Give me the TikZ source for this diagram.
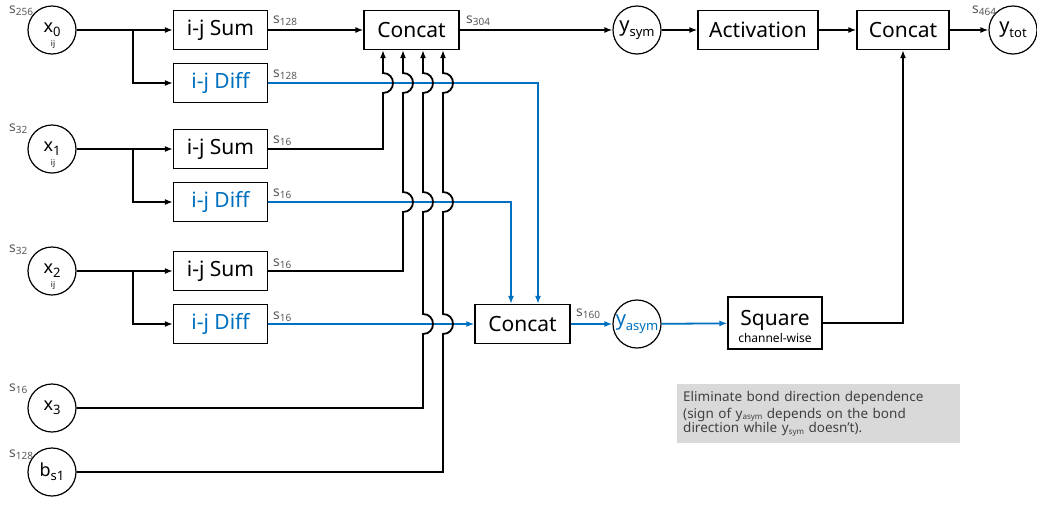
\documentclass[tikz,border=0pt]{standalone}
\usepackage{fontspec}
\setmainfont{Noto Sans}
\usetikzlibrary{arrows.meta}
\definecolor{blu}{HTML}{0070C0}
\definecolor{lblgray}{HTML}{595959}
\definecolor{notegray}{HTML}{D9D9D9}
\definecolor{notetext}{HTML}{404040}
\newcommand\fs[1]{\fontsize{#1}{#1}\selectfont}
\newcommand\slbl[1]{{\fs{14}s\raisebox{-2.5pt}{\fs{10}#1}}}
\newcommand\circtxt[2]{{\fs{18}#1\raisebox{-4pt}{\fs{13}#2}}}
\begin{document}
\begin{tikzpicture}[x=1pt,y=-1pt,
 box/.style={draw, line width=1.2pt, minimum width=94pt, minimum height=39pt, inner sep=0pt, font=\fs{21}},
 circ/.style={draw, circle, line width=1.2pt, minimum size=48pt, inner sep=0pt},
 blk/.style={line width=1.8pt, -{Latex[length=8pt,width=6pt]}},
 bl/.style={blk, draw=blu},
 lbl/.style={anchor=base west, inner sep=0pt, text=lblgray},
 ijs/.style={inner sep=0pt, font=\fs{8}},
]
\useasboundingbox (0,0) rectangle (1037,504);

% input circles
\node[circ] (x0) at (52,30) {\circtxt{x}{0}};
\node[circ] (x1) at (52,149) {\circtxt{x}{1}};
\node[circ] (x2) at (52,271) {\circtxt{x}{2}};
\node[circ] (x3) at (52,408) {\circtxt{x}{3}};
\node[circ] (bs1) at (52,472) {\circtxt{b}{s1}};
\node[ijs] (ij0) at (53,45) {ij};
\node[ijs] (ij1) at (53,164) {ij};
\node[ijs] (ij2) at (53,286) {ij};

% boxes
\node[box] (sum1) at (220.5,30) {i-j Sum};
\node[box, text=blu] (diff1) at (220.5,83) {i-j Diff};
\node[box] (sum2) at (220.5,149) {i-j Sum};
\node[box, text=blu] (diff2) at (220.5,202) {i-j Diff};
\node[box] (sum3) at (220.5,271) {i-j Sum};
\node[box, text=blu] (diff3) at (220.5,324) {i-j Diff};
\node[box, minimum width=95pt] (cat1) at (411.5,30) {Concat};
\node[box, minimum width=95pt] (cat2) at (522.5,324) {Concat};
\node[box, minimum width=120pt] (act) at (758,30) {Activation};
\node[box, minimum width=92pt] (cat3) at (903,30) {Concat};
\node[box, minimum height=52pt] (sq) at (775,323) {};
\node[anchor=base, inner sep=0pt, font=\fs{21}] (sqt) at (775,325) {Square};
\node[anchor=base, inner sep=0pt, font=\fs{12}] (sqc) at (775,342) {channel-wise};

% output circles
\node[circ] (ysym) at (637,30) {{\fs{20}y\raisebox{-5pt}{\fs{13}sym}}};
\node[circ] (yasym) at (637,324) {{\color{blu}\fs{20}y\raisebox{-5pt}{\fs{13}asym}}};
\node[circ] (ytot) at (1013,30) {{\fs{20}y\raisebox{-5pt}{\fs{13}tot}}};

% size labels
\node[lbl] (l0) at (9,13) {\slbl{256}};
\node[lbl] (l1) at (9,131) {\slbl{32}};
\node[lbl] (l2) at (9,252) {\slbl{32}};
\node[lbl] (l3) at (9,391) {\slbl{16}};
\node[lbl] (l4) at (9,457) {\slbl{128}};
\node[lbl] (ls1) at (273,23) {\slbl{128}};
\node[lbl] (ld1) at (273,77) {\slbl{128}};
\node[lbl] (ls2) at (273,143) {\slbl{16}};
\node[lbl] (ld2) at (273,196) {\slbl{16}};
\node[lbl] (ls3) at (273,266) {\slbl{16}};
\node[lbl] (ld3) at (273,319) {\slbl{16}};
\node[lbl] (lc1) at (466,23) {\slbl{304}};
\node[lbl] (lc2) at (576,316) {\slbl{160}};
\node[lbl] (lt) at (972,13) {\slbl{464}};

% note
\node[fill=notegray, anchor=north west, minimum width=283pt, minimum height=59pt,
      text width=271pt, inner xsep=6pt, inner ysep=0pt, align=left, text=notetext,
      font=\fs{13.5}] (note) at (677,384)
 {\baselineskip=16.5pt Eliminate bond direction dependence\\
  (sign of y\raisebox{-1.5pt}{\fs{8}asym} depends on the bond\\
  direction while y\raisebox{-1.5pt}{\fs{8}sym} doesn't).};

% column coordinates
\coordinate (c1) at (383,0);
\coordinate (c2) at (403,0);
\coordinate (c3) at (423,0);
\coordinate (c4) at (443,0);
\coordinate (k1) at (538,0);
\coordinate (k2) at (511,0);

% input fan-out
\draw[blk] (x0) -- (sum1);
\draw[blk] (x0.east) -- (133,30) |- (diff1.west);
\draw[blk] (x1) -- (sum2);
\draw[blk] (x1.east) -- (133,149) |- (diff2.west);
\draw[blk] (x2) -- (sum3);
\draw[blk] (x2.east) -- (133,271) |- (diff3.west);

% blue difference paths
\draw[bl] (diff1.east) -| (k1 |- cat2.north);
\draw[bl] (diff2.east) -| (k2 |- cat2.north);
\draw[bl] (diff3.east) -- (diff3.east -| cat2.west);

% sums into top concat
\draw[blk] (sum1) -- (cat1);
\draw[blk] (sum2.east) -- (383,149) -- (383,93)
  .. controls (396.3,93) and (396.3,73) .. (383,73) -- (c1 |- cat1.south);
\draw[blk] (sum3.east) -- (403,271) -- (403,212)
  .. controls (416.3,212) and (416.3,192) .. (403,192) -- (403,93)
  .. controls (416.3,93) and (416.3,73) .. (403,73) -- (c2 |- cat1.south);
\draw[blk] (x3.east) -- (423,408) -- (423,334)
  .. controls (436.3,334) and (436.3,314) .. (423,314) -- (423,212)
  .. controls (436.3,212) and (436.3,192) .. (423,192) -- (423,93)
  .. controls (436.3,93) and (436.3,73) .. (423,73) -- (c3 |- cat1.south);
\draw[blk] (bs1.east) -- (443,472) -- (443,334)
  .. controls (456.3,334) and (456.3,314) .. (443,314) -- (443,212)
  .. controls (456.3,212) and (456.3,192) .. (443,192) -- (443,93)
  .. controls (456.3,93) and (456.3,73) .. (443,73) -- (c4 |- cat1.south);

% top chain
\draw[blk] (cat1) -- (ysym);
\draw[blk] (ysym) -- (act);
\draw[blk] (act) -- (cat3);
\draw[blk] (cat3) -- (ytot);

% bottom chain
\draw[bl] (cat2) -- (yasym);
\draw[bl] (yasym) -- (sq);
\draw[blk] (sq.east) -| (cat3.south);
\end{tikzpicture}
\end{document}
